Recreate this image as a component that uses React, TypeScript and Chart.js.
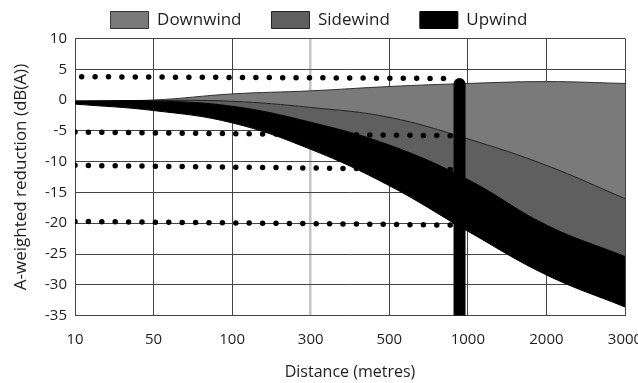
import { useEffect, useRef } from 'react';
import { Chart, registerables } from 'chart.js';

Chart.register(...registerables);

// Category labels of the distance axis (evenly spaced)
const distanceLabels = ['10', '50', '100', '300', '500', '1000', '2000', '3000'];

// Series values (dB(A)) at each distance category
const downwind = [-0.25, 0.0, 1.0, 1.5, 2.2, 2.7, 3.0, 2.7];
const sidewind = [-0.25, -0.05, -0.2, -1.2, -2.8, -6.3, -10.6, -16.0];
const upwindUpper = [-0.25, -0.15, -1.0, -3.6, -7.3, -12.9, -20.3, -25.4];
const upwindLower = [-0.65, -1.7, -3.7, -8.0, -13.9, -21.3, -28.4, -33.6];

// Dotted reference levels (start / end value) and their extent along the category axis
const refLevelStart = [3.8, -5.2, -10.6, -19.7];
const refLevelEnd = [3.5, -5.8, -11.3, -20.3];
const refStartIndex = [0.085, 0, 0, 0];
const refEndIndex = 4.85;

// Vertical marker (position along category axis, top value)
const markerIndex = 4.894;
const markerTop = 2.6;

const yMin = -35;
const yMax = 10;
const yStep = 5;

const TEXT = '#1e1e1e';
const GRID = '#444444';

export default function App() {
  const ref = useRef<HTMLCanvasElement>(null);

  useEffect(() => {
    document.body.style.margin = '0';
    Chart.defaults.font.family = "'Open Sans', sans-serif";
    Chart.defaults.color = TEXT;
    const pts = (arr: number[]) => arr.map((y, i) => ({ x: i, y }));
    const area = {
      pointRadius: 0,
      pointHoverRadius: 0,
      tension: 0.4,
    };
    const dotted = refLevelStart.map((s, i) => ({
      label: 'ref' + i,
      data: [
        { x: refStartIndex[i], y: s },
        { x: refEndIndex, y: refLevelEnd[i] },
      ],
      borderColor: '#000',
      borderWidth: 5.5,
      borderDash: [0, 13.4],
      borderCapStyle: 'round' as const,
      pointRadius: 0,
      fill: false,
      order: 2,
    }));

    const chart = new Chart(ref.current!, {
      type: 'line',
      data: {
        datasets: [
          {
            label: 'Downwind',
            data: pts(downwind),
            borderColor: '#333333',
            borderWidth: 1,
            backgroundColor: '#7a7a7a',
            fill: '+1',
            order: 4,
            ...area,
          },
          {
            label: 'Sidewind',
            data: pts(sidewind),
            borderColor: '#222222',
            borderWidth: 1,
            backgroundColor: '#5f5f5f',
            fill: '+1',
            order: 3,
            ...area,
          },
          {
            label: 'Upwind',
            data: pts(upwindUpper),
            borderColor: '#000',
            borderWidth: 1,
            backgroundColor: '#000',
            fill: '+1',
            order: 1,
            ...area,
          },
          {
            label: 'Upwind lower',
            data: pts(upwindLower),
            borderColor: '#000',
            borderWidth: 1,
            backgroundColor: '#000',
            fill: false,
            order: 1,
            ...area,
          },
          ...dotted,
          {
            label: 'marker',
            data: [
              { x: markerIndex, y: markerTop },
              { x: markerIndex, y: yMin - 3 },
            ],
            borderColor: '#000',
            borderWidth: 12,
            borderCapStyle: 'round',
            pointRadius: 0,
            fill: false,
            order: 0,
            clip: 0,
          },
        ] as any,
      },
      options: {
        responsive: false,
        animation: false,
        events: [],
        layout: { padding: { top: -18.5, left: 0, right: 0, bottom: 0 } },
        plugins: {
          legend: {
            position: 'top',
            align: 'center',
            labels: {
              boxWidth: 38,
              boxHeight: 17,
              padding: 30,
              color: TEXT,
              font: { size: 17 },
              filter: (item: any) => item.datasetIndex < 3,
              sort: (a: any, b: any) => a.datasetIndex - b.datasetIndex,
            },
          },
          tooltip: { enabled: false },
        },
        scales: {
          x: {
            type: 'linear',
            min: 0,
            max: distanceLabels.length - 1,
            ticks: {
              stepSize: 1,
              padding: 15,
              autoSkip: false,
              maxRotation: 0,
              color: TEXT,
              font: { size: 15 },
              callback: (v: any) => distanceLabels[v] ?? '',
            },
            grid: {
              drawTicks: false,
              color: (c: any) => (c.tick && c.tick.value === 3 ? '#c4c4c4' : GRID),
              lineWidth: (c: any) => (c.tick && c.tick.value === 3 ? 2.5 : 1),
            },
            border: { color: GRID },
            title: {
              display: true,
              text: 'Distance (metres)',
              color: TEXT,
              font: { size: 16 },
              padding: { top: 0, bottom: 1 },
            },
            afterFit: (s: any) => {
              s.height = 67.4;
              s.paddingLeft = 0;
              s.paddingRight = 13;
            },
          },
          y: {
            min: yMin,
            max: yMax,
            ticks: { stepSize: yStep, padding: 8, color: TEXT, font: { size: 15 } },
            grid: { drawTicks: false, color: GRID, lineWidth: 1 },
            border: { color: GRID },
            title: {
              display: true,
              text: 'A-weighted reduction (dB(A))',
              color: TEXT,
              font: { size: 17 },
              padding: { top: 11, bottom: 0 },
            },
            afterFit: (s: any) => {
              s.width = 75;
            },
          },
        },
      } as any,
    });
    return () => chart.destroy();
  }, []);

  return (
    <div style={{ width: 638, height: 383 }}>
      <canvas ref={ref} width={638} height={383} style={{ display: 'block' }} />
    </div>
  );
}
